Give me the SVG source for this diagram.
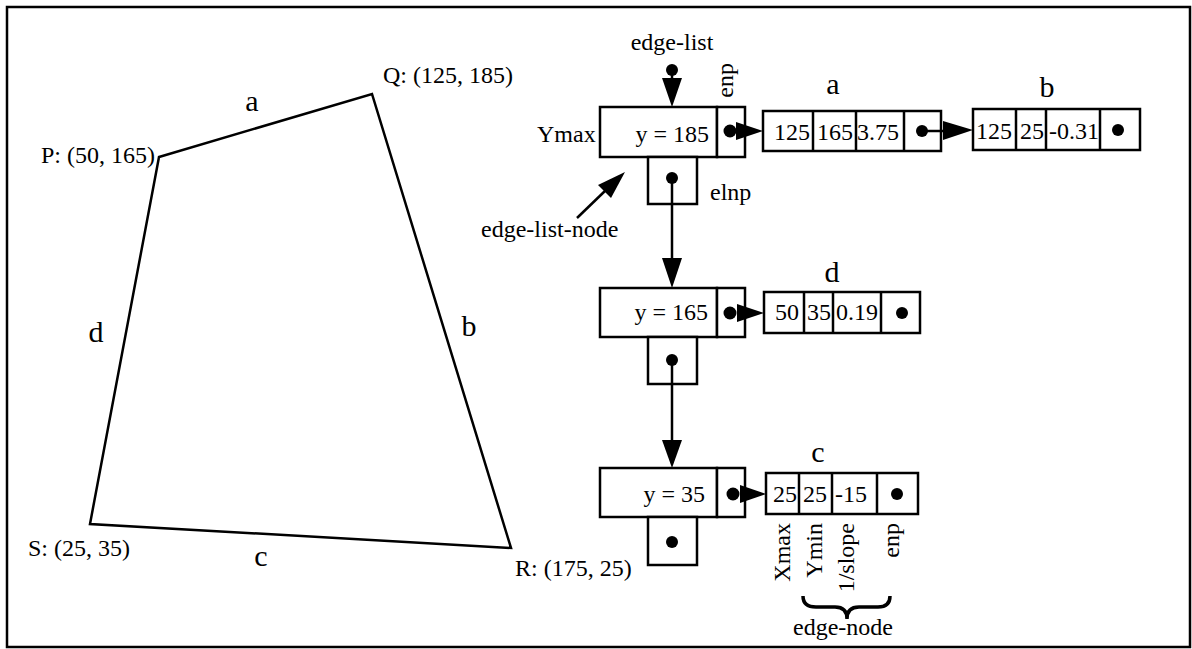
<svg xmlns="http://www.w3.org/2000/svg" width="1192" height="649" viewBox="0 0 1192 649">
<style>
text{font-family:"Liberation Serif","Times New Roman",serif;font-size:24px;fill:#000}
.big{font-size:30px}
.box{fill:#fff;stroke:#000;stroke-width:2.5}
.ln{fill:none;stroke:#000;stroke-width:2.5}
.dot{fill:#000}
.mid{text-anchor:middle}
.end{text-anchor:end}
</style>
<rect x="0" y="0" width="1192" height="649" fill="#fff"/>
<rect x="7" y="7" width="1183" height="640" fill="none" stroke="#000" stroke-width="2.5"/>

<g id="polygon">
<polygon points="159,157 372,94 511,548 90,524" fill="none" stroke="#000" stroke-width="2.5" stroke-linejoin="miter"/>
<text x="155" y="163" class="end">P: (50, 165)</text>
<text x="383" y="83">Q: (125, 185)</text>
<text x="515" y="576">R: (175, 25)</text>
<text x="28" y="556">S: (25, 35)</text>
<text x="252" y="111" class="big mid">a</text>
<text x="469" y="336" class="big mid">b</text>
<text x="261" y="566" class="big mid">c</text>
<text x="96" y="342" class="big mid">d</text>
</g>

<g id="labels">
<text x="672" y="50" class="mid">edge-list</text>
<text x="537" y="142">Ymax</text>
<text x="481" y="237">edge-list-node</text>
<text x="710" y="200">elnp</text>
<text transform="translate(733,63) rotate(-90)" class="end">enp</text>
</g>

<g id="eln1">
<rect x="600" y="107" width="117" height="50" class="box"/>
<rect x="717" y="107" width="28" height="50" class="box"/>
<rect x="648" y="157" width="49" height="47" class="box"/>
<text x="709" y="142" class="end">y = 185</text>
</g>
<g id="eln2">
<rect x="600" y="288" width="117" height="49" class="box"/>
<rect x="717" y="288" width="28" height="49" class="box"/>
<rect x="648" y="337" width="49" height="47" class="box"/>
<text x="708" y="320" class="end">y = 165</text>
</g>
<g id="eln3">
<rect x="600" y="468" width="117" height="49" class="box"/>
<rect x="717" y="468" width="28" height="49" class="box"/>
<rect x="648" y="517" width="49" height="48" class="box"/>
<text x="705" y="502" class="end">y = 35</text>
<circle cx="672" cy="542" r="6" class="dot"/>
</g>

<g id="node-a">
<rect x="763" y="111" width="178" height="40" class="box"/>
<path d="M813,111V151M856,111V151M904,111V151" class="ln"/>
<text x="833" y="94" class="big mid">a</text>
<text x="774" y="140">125</text>
<text x="817" y="140">165</text>
<text x="857" y="140">3.75</text>
</g>
<g id="node-b">
<rect x="973" y="109" width="167" height="41" class="box"/>
<path d="M1016,109V150M1046,109V150M1100,109V150" class="ln"/>
<text x="1047" y="97" class="big mid">b</text>
<text x="976" y="139">125</text>
<text x="1020" y="139">25</text>
<text x="1049" y="139">-0.31</text>
<circle cx="1118" cy="130" r="6" class="dot"/>
</g>
<g id="node-d">
<rect x="764" y="292" width="156" height="41" class="box"/>
<path d="M804,292V333M833,292V333M881,292V333" class="ln"/>
<text x="832" y="282" class="big mid">d</text>
<text x="775" y="320">50</text>
<text x="807" y="320">35</text>
<text x="836" y="320">0.19</text>
<circle cx="902" cy="313" r="6" class="dot"/>
</g>
<g id="node-c">
<rect x="766" y="473" width="152" height="41" class="box"/>
<path d="M799,473V514M832,473V514M877,473V514" class="ln"/>
<text x="818" y="462" class="big mid">c</text>
<text x="773" y="502">25</text>
<text x="803" y="502">25</text>
<text x="835" y="502">-15</text>
<circle cx="897" cy="494" r="6" class="dot"/>
</g>

<g id="edge-node-legend">
<text transform="translate(790,523) rotate(-90)" class="end">Xmax</text>
<text transform="translate(822,523) rotate(-90)" class="end">Ymin</text>
<text transform="translate(854,523) rotate(-90)" class="end">1/slope</text>
<text transform="translate(899,523) rotate(-90)" class="end">enp</text>
<path d="M803,596 Q803,607 816,607 L835,607 Q847,607 847,619 Q847,607 859,607 L878,607 Q890,607 890,596" fill="none" stroke="#000" stroke-width="3.5"/>
<text x="843" y="635" class="mid">edge-node</text>
</g>

<g id="connectors">
<circle cx="672" cy="70" r="6" class="dot"/>
<line x1="672" y1="70" x2="672" y2="80" class="ln"/>
<polygon points="662,78 682,78 672,107" class="dot"/>
<line x1="577" y1="218" x2="606" y2="190" class="ln"/>
<polygon points="625,172 611,198 598,185" class="dot"/>
<circle cx="672" cy="178" r="6" class="dot"/>
<line x1="672" y1="178" x2="672" y2="260" class="ln"/>
<polygon points="662,258 682,258 672,288" class="dot"/>
<circle cx="672" cy="360" r="6" class="dot"/>
<line x1="672" y1="360" x2="672" y2="442" class="ln"/>
<polygon points="662,440 682,440 672,468" class="dot"/>
<circle cx="730" cy="131" r="6.5" class="dot"/>
<polygon points="736,122 763,131 736,140" class="dot"/>
<circle cx="730" cy="313" r="6.5" class="dot"/>
<polygon points="737,304 764,313 737,322" class="dot"/>
<circle cx="733" cy="494" r="6.5" class="dot"/>
<polygon points="740,485 766,494 740,503" class="dot"/>
<circle cx="922" cy="131" r="6" class="dot"/>
<line x1="922" y1="131" x2="946" y2="131" class="ln"/>
<polygon points="943,121 973,130 943,140" class="dot"/>
</g>
</svg>
